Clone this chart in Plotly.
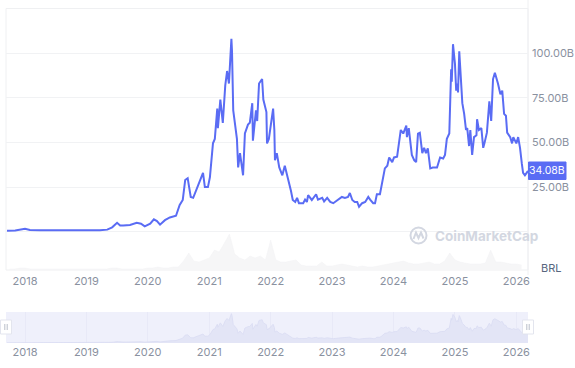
import pandas as pd
import plotly.graph_objects as go

# ---------------- data ----------------
# decimal-year positions of the traced market-cap line
cap_years = [
    2017.707, 2017.84, 2018.00, 2018.08, 2018.24, 2018.49, 2018.73, 2018.98, 2019.22, 2019.34,
    2019.42, 2019.50, 2019.55, 2019.60, 2019.71, 2019.82, 2019.89, 2019.95,
    2020.04, 2020.10, 2020.15, 2020.20, 2020.28, 2020.36, 2020.46, 2020.52, 2020.57, 2020.61,
    2020.65, 2020.70, 2020.74, 2020.82, 2020.90, 2020.93, 2020.98,
    2021.01, 2021.06, 2021.09, 2021.13, 2021.14, 2021.18, 2021.22, 2021.26, 2021.29, 2021.32,
    2021.36, 2021.37, 2021.39, 2021.40, 2021.44, 2021.45, 2021.47, 2021.50, 2021.55, 2021.58,
    2021.63, 2021.66, 2021.70, 2021.71, 2021.76, 2021.78, 2021.81, 2021.86, 2021.88, 2021.93,
    2021.94, 2021.97,
    2022.04, 2022.06, 2022.07, 2022.10, 2022.14, 2022.19, 2022.23, 2022.27, 2022.28, 2022.33,
    2022.36, 2022.40, 2022.43, 2022.46, 2022.53, 2022.56, 2022.59, 2022.61, 2022.67, 2022.74,
    2022.77, 2022.84, 2022.87, 2022.92, 2022.97,
    2023.02, 2023.10, 2023.16, 2023.21, 2023.26, 2023.29, 2023.33, 2023.37, 2023.41, 2023.44,
    2023.49, 2023.54, 2023.59, 2023.62, 2023.67, 2023.70, 2023.73, 2023.78, 2023.81, 2023.86,
    2023.90, 2023.93, 2023.98,
    2024.01, 2024.06, 2024.12, 2024.16, 2024.21, 2024.22, 2024.25, 2024.30, 2024.34, 2024.37,
    2024.40, 2024.43, 2024.47, 2024.50, 2024.53, 2024.56, 2024.60, 2024.64, 2024.71, 2024.76,
    2024.81, 2024.84, 2024.87, 2024.91, 2024.94, 2024.95, 2024.97,
    2025.00, 2025.02, 2025.04, 2025.05, 2025.07, 2025.10, 2025.12, 2025.15, 2025.18, 2025.20,
    2025.23, 2025.25, 2025.28, 2025.31, 2025.35, 2025.36, 2025.39, 2025.43, 2025.46, 2025.48,
    2025.52, 2025.56, 2025.59, 2025.62, 2025.65, 2025.70, 2025.74, 2025.77, 2025.80, 2025.83,
    2025.85, 2025.90, 2025.93, 2025.95, 2026.00, 2026.03, 2026.06, 2026.09, 2026.11, 2026.14,
    2026.19,
]
# market cap, billions of BRL
market_cap_b = [
    0.6, 0.7, 1.7, 1.0, 0.8, 0.7, 0.6, 0.6, 0.8, 1.2,
    2.5, 5.0, 3.5, 3.5, 3.8, 5.0, 4.5, 3.0,
    4.5, 7.0, 6.0, 4.0, 6.5, 8.0, 9.0, 15.0, 17.8, 29,
    30, 19.5, 19, 26, 33, 25, 25,
    30.5, 49.5, 52, 69, 58, 74, 61, 82, 90, 83,
    108, 101, 68, 65, 53, 52, 36, 44, 31.6, 55,
    60, 61, 72, 51, 68, 62, 83, 85.5, 74, 67,
    49.5, 52,
    69, 57, 40, 44, 36, 31.6, 37, 30.5, 30, 23,
    17.8, 16.7, 19, 16, 16, 18, 16.7, 20.5, 17.8, 21,
    18, 19, 17, 19, 16.7,
    16, 18, 19.5, 19, 19.5, 21.7, 17.8, 16.7, 16.7, 14,
    16, 16.7, 19.5, 18, 16, 16, 21, 21, 26, 35.5,
    37, 41.6, 39,
    41.6, 42, 57, 55, 59.5, 53, 58, 43, 40, 39,
    55, 55.5, 44, 47, 44, 46.7, 35.5, 36, 36, 41.6,
    41, 43, 52, 55, 91, 84, 105,
    94, 79, 83, 78, 101, 86, 72, 66, 57, 58,
    48, 57, 43, 53, 54, 63, 57, 58, 47, 49.5,
    55.5, 73, 62, 85.5, 89, 83, 77, 79, 66, 65,
    55.5, 53, 49.5, 53, 49.5, 53, 47, 38, 33, 31.6,
    34.08,
]
assert len(cap_years) == len(market_cap_b)

# monthly volume (relative heights), Oct 2017 .. Feb 2026
volume_start, volume_end = "2017-10-01", "2026-02-01"
volume_rel = [
    1, 1, 2,
    2, 1, 1, 1, 1, 1, 1, 1, 1, 1, 1, 1,
    1, 1, 1, 1, 1, 2, 2, 1, 1, 1, 1, 1,
    2, 2, 3, 2, 2, 3, 3, 9, 17, 9, 8, 10,
    12, 20, 18, 27, 36, 16, 12, 10, 14, 12, 14, 10,
    30, 10, 8, 8, 9, 10, 5, 4, 4, 4, 8, 4,
    4, 5, 6, 5, 4, 3, 4, 3, 3, 4, 5, 6,
    7, 8, 9, 7, 6, 6, 7, 8, 6, 6, 9, 17,
    10, 8, 7, 6, 6, 6, 7, 20, 8, 8, 7, 6,
    6, 5,
]

year_ticks = [2018, 2019, 2020, 2021, 2022, 2023, 2024, 2025, 2026]
y_ticks = [0, 25, 50, 75, 100, 125]
y_ticktext = ["", "25.00B", "50.00B", "75.00B", "100.00B", ""]
last_label = "34.08B"
currency = "BRL"
x_start_year, x_end_year = 2017.69, 2026.19


# ---------------- helpers ----------------
def to_date(d):
    y = int(d)
    return pd.Timestamp(year=y, month=1, day=1) + pd.Timedelta(days=(d - y) * 365.25)


W, H = 575, 368


def px(x):
    return x / W


def py(y):
    return 1 - y / H


dates = [to_date(d) for d in cap_years]
vol_dates = pd.date_range(volume_start, volume_end, freq="MS")
assert len(vol_dates) == len(volume_rel)
tick_dates = [pd.Timestamp(year=y, month=1, day=1) for y in year_ticks]
x_range = [to_date(x_start_year), to_date(x_end_year)]

BLUE = "#5a6cf4"
GREY = "#8a919f"
FONT = "Inter"

fig = go.Figure()

# volume (background)
fig.add_trace(go.Scatter(
    x=vol_dates, y=volume_rel, xaxis="x", yaxis="y3", mode="lines",
    line=dict(color="#f3f3f4", width=0.5), fill="tozeroy", fillcolor="#f6f6f7",
    hoverinfo="skip", showlegend=False,
))
# main line
fig.add_trace(go.Scatter(
    x=dates, y=market_cap_b, xaxis="x", yaxis="y", mode="lines",
    line=dict(color=BLUE, width=2), showlegend=False,
))
# navigator area
fig.add_trace(go.Scatter(
    x=dates, y=market_cap_b, xaxis="x2", yaxis="y2", mode="lines",
    line=dict(color="#d9dcf2", width=0.8), fill="tozeroy", fillcolor="#e3e5f6",
    hoverinfo="skip", showlegend=False,
))

main_dom_y = [py(270), py(8.5)]
nav_dom_y = [py(343), py(312)]
dom_x = [px(6), px(528)]

fig.update_layout(
    width=W, height=H, autosize=False,
    margin=dict(l=0, r=0, t=0, b=0),
    paper_bgcolor="white", plot_bgcolor="rgba(0,0,0,0)",
    font=dict(family=FONT, size=11, color=GREY),
    xaxis=dict(
        domain=dom_x, range=x_range, anchor="y", type="date",
        tickvals=tick_dates, ticktext=[str(y) for y in year_ticks],
        showgrid=False, zeroline=False, showline=False, ticks="",
        tickfont=dict(size=11, color=GREY), automargin=False,
        ticklabelstandoff=3,
    ),
    yaxis=dict(
        domain=main_dom_y, range=[-21.4, 125], side="right", anchor="x",
        tickvals=y_ticks, ticktext=y_ticktext,
        showgrid=True, gridcolor="#f1f2f4", gridwidth=1,
        zeroline=False, showline=False, ticks="",
        tickfont=dict(size=11, color=GREY), automargin=False,
        ticklabelstandoff=3,
    ),
    yaxis3=dict(
        domain=main_dom_y, range=[0, 261.5], overlaying="y", anchor="x",
        visible=False, showgrid=False,
    ),
    xaxis2=dict(
        domain=dom_x, range=x_range, anchor="y2", type="date",
        tickvals=tick_dates, ticktext=[str(y) for y in year_ticks],
        showgrid=True, gridcolor="#e8e9f7", gridwidth=1,
        zeroline=False, showline=False, ticks="",
        tickfont=dict(size=11, color=GREY), automargin=False,
        ticklabelstandoff=1,
    ),
    yaxis2=dict(
        domain=nav_dom_y, range=[0, 114], anchor="x2", visible=False,
    ),
)

shapes = []
# plot border
shapes.append(dict(type="rect", xref="paper", yref="paper",
                   x0=px(6), x1=px(528), y0=py(270), y1=py(8.5),
                   line=dict(color="#eff0f2", width=1), fillcolor="rgba(0,0,0,0)",
                   layer="below"))
# right border extends up to top
shapes.append(dict(type="line", xref="paper", yref="paper",
                   x0=px(528), x1=px(528), y0=py(275), y1=1,
                   line=dict(color="#eff0f2", width=1), layer="below"))
# navigator background
shapes.append(dict(type="rect", xref="paper", yref="paper",
                   x0=px(6), x1=px(528), y0=py(343), y1=py(312),
                   line=dict(width=0), fillcolor="#eff0fb", layer="below"))
# navigator handles
for cx in (6, 528):
    shapes.append(dict(type="rect", xref="paper", yref="paper",
                       x0=px(cx - 5.5), x1=px(cx + 5.5), y0=py(334), y1=py(320),
                       line=dict(color="#e3e5ee", width=1), fillcolor="white"))
    for dx in (-1.2, 1.2):
        shapes.append(dict(type="line", xref="paper", yref="paper",
                           x0=px(cx + dx), x1=px(cx + dx), y0=py(330), y1=py(324),
                           line=dict(color="#a7adbb", width=0.8)))
# watermark logo
shapes.append(dict(type="circle", xref="paper", yref="paper",
                   x0=px(410.5), x1=px(426.5), y0=py(243.5), y1=py(227.5),
                   line=dict(color="#d3d7e1", width=2), fillcolor="rgba(0,0,0,0)"))
wave = [(413.5, 239), (416, 232.5), (418.5, 238), (421, 232.5), (423.5, 238.5)]
path = "M " + " L ".join(f"{px(x)},{py(y)}" for x, y in wave)
shapes.append(dict(type="path", xref="paper", yref="paper", path=path,
                   line=dict(color="#d3d7e1", width=2)))
# last value badge
shapes.append(dict(type="rect", xref="paper", yref="paper",
                   x0=px(528.5), x1=px(566), y0=py(179.5), y1=py(162),
                   line=dict(color=BLUE, width=1), fillcolor=BLUE))
fig.update_layout(shapes=shapes)

annotations = [
    dict(text=last_label, xref="paper", yref="y", x=px(547.2), y=market_cap_b[-1],
         xanchor="center", yanchor="middle", showarrow=False,
         font=dict(family=FONT, size=10.5, color="white")),
    dict(text=currency, xref="paper", yref="paper", x=px(539), y=py(268),
         xanchor="left", yanchor="middle", showarrow=False,
         font=dict(family=FONT, size=11, color="#58667e")),
    dict(text="<b>CoinMarketCap</b>", xref="paper", yref="paper", x=px(433), y=py(235.5),
         xanchor="left", yanchor="middle", showarrow=False,
         font=dict(family=FONT, size=13.5, color="#d3d7e1")),
]
fig.update_layout(annotations=annotations)

fig.write_html(
    "out.html",
    config={"displayModeBar": False},
    post_script="document.body.style.margin='0';document.body.style.overflow='hidden';",
)
